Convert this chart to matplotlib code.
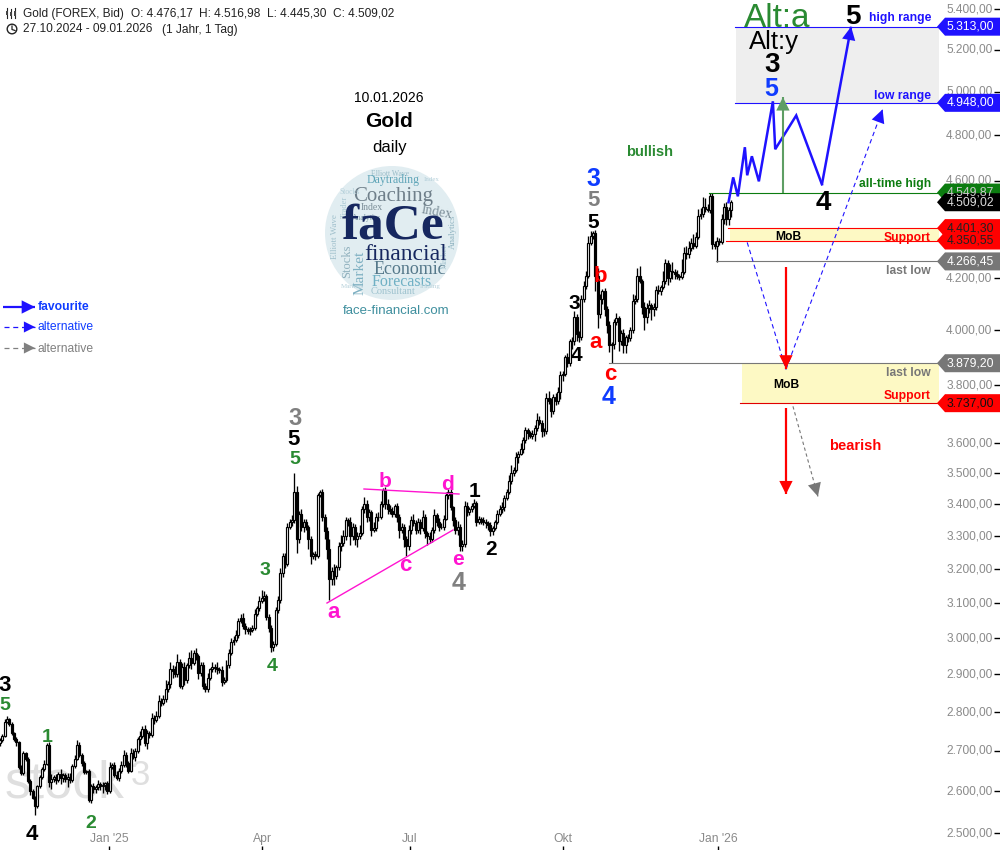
import numpy as np
import matplotlib
matplotlib.use('Agg')
import matplotlib.pyplot as plt
from matplotlib.patches import Polygon, Circle
from matplotlib.transforms import Affine2D, IdentityTransform

plt.rcParams['font.family'] = ['Liberation Sans', 'DejaVu Sans']

first_open = 2720
close = [
    2728, 2738, 2775, 2782, 2770, 2745, 2730, 2722, 2660, 2645,
    2695, 2680, 2625, 2600, 2585, 2565, 2612, 2635, 2655, 2668,
    2716, 2622, 2630, 2634, 2628, 2642, 2632, 2640, 2629, 2636,
    2628, 2662, 2680, 2715, 2690, 2670, 2648, 2650, 2578, 2612,
    2605, 2610, 2618, 2612, 2615, 2620, 2600, 2660, 2665, 2640,
    2633, 2650, 2665, 2690, 2670, 2650, 2695, 2685, 2700, 2730,
    2738, 2755, 2720, 2745, 2740, 2785, 2780, 2790, 2830, 2825,
    2835, 2860, 2875, 2915, 2910, 2900, 2935, 2870, 2920, 2885,
    2925, 2945, 2930, 2960, 2950, 2905, 2925, 2870, 2860, 2890,
    2915, 2920, 2918, 2915, 2912, 2880, 2885, 2925, 2960, 2990,
    2995, 3010, 3050, 3058, 3035, 3025, 3020, 3022, 3030, 3070,
    3085, 3105, 3115, 3120, 3060, 3030, 2975, 2985, 3080, 3110,
    3190, 3240, 3215, 3330, 3345, 3350, 3440, 3290, 3370, 3330,
    3345, 3330, 3290, 3240, 3245, 3240, 3430, 3440, 3360, 3315,
    3260, 3170, 3195, 3180, 3205, 3270, 3280, 3300, 3350, 3345,
    3300, 3330, 3290, 3300, 3310, 3385, 3400, 3360, 3375, 3320,
    3325, 3360, 3360, 3400, 3445, 3400, 3385, 3380, 3370, 3395,
    3360, 3320, 3330, 3290, 3270, 3320, 3350, 3340, 3320, 3345,
    3325, 3360, 3310, 3300, 3290, 3320, 3365, 3345, 3330, 3330,
    3355, 3430, 3440, 3390, 3350, 3320, 3330, 3270, 3275, 3395,
    3375, 3385, 3395, 3405, 3345, 3355, 3350, 3345, 3340, 3335,
    3315, 3325, 3345, 3370, 3385, 3390, 3420, 3440, 3475, 3500,
    3510, 3555, 3565, 3580, 3610, 3645, 3635, 3625, 3630, 3650,
    3680, 3670, 3640, 3640, 3755, 3745, 3710, 3760, 3745, 3775,
    3835, 3840, 3900, 3880, 3960, 3960, 4050, 3985, 3975, 4120,
    4170, 4210, 4340, 4370, 4380, 4210, 4060, 4120, 4150, 4080,
    4020, 3945, 3950, 4030, 4045, 3960, 3990, 3945, 3975, 3970,
    4000, 4110, 4120, 4210, 4190, 4090, 4050, 4085, 4095, 4080,
    4090, 4155, 4150, 4165, 4190, 4260, 4200, 4230, 4225, 4215,
    4210, 4205, 4225, 4300, 4295, 4320, 4340, 4330, 4365, 4450,
    4460, 4490, 4480, 4475, 4535, 4335, 4330, 4350, 4345, 4440,
    4490, 4440, 4476.17, 4509.02,
]
wick_up = [
    6, 4, 6, 8, 3, 5, 4, 6, 3, 4,
    5, 3, 6, 4, 5, 3, 4, 5, 6, 10,
    4, 6, 12, 5, 8, 6, 14, 6, 5, 10,
    8, 5, 10, 14, 8, 4, 5, 3, 4, 6,
    8, 6, 10, 6, 8, 4, 6, 12, 5, 8,
    10, 8, 10, 12, 8, 6, 12, 10, 8, 6,
    14, 8, 10, 8, 6, 12, 6, 12, 14, 8,
    10, 26, 8, 18, 10, 12, 20, 8, 10, 14,
    6, 16, 22, 8, 12, 6, 8, 8, 6, 14,
    4, 14, 8, 16, 6, 10, 8, 14, 10, 12,
    10, 12, 6, 10, 14, 8, 8, 10, 6, 12,
    8, 16, 22, 14, 6, 10, 8, 6, 10, 12,
    14, 10, 8, 12, 10, 16, 60, 20, 8, 14,
    10, 8, 6, 12, 8, 10, 6, 6, 10, 8,
    14, 30, 12, 20, 8, 12, 24, 18, 10, 8,
    14, 10, 8, 12, 26, 10, 22, 14, 10, 8,
    18, 12, 16, 10, 8, 10, 18, 12, 10, 6,
    10, 8, 12, 8, 10, 16, 14, 20, 10, 12,
    8, 22, 10, 6, 14, 10, 20, 8, 12, 10,
    12, 10, 8, 8, 6, 10, 16, 8, 12, 14,
    12, 8, 10, 12, 6, 8, 6, 10, 8, 6,
    10, 8, 6, 12, 14, 16, 10, 8, 18, 26,
    12, 14, 8, 20, 12, 10, 8, 6, 14, 12,
    22, 14, 8, 10, 18, 24, 10, 8, 12, 20,
    16, 12, 10, 16, 8, 14, 22, 10, 12, 14,
    18, 20, 28, 18, 8, 14, 30, 20, 6, 10,
    12, 14, 8, 12, 20, 10, 10, 14, 8, 12,
    14, 28, 16, 30, 40, 8, 16, 18, 20, 10,
    14, 14, 20, 10, 40, 18, 14, 26, 34, 12,
    16, 8, 50, 24, 30, 28, 20, 36, 20, 30,
    24, 40, 35, 20, 15, 14, 12, 16, 12, 20,
    16, 20, 14, 8,
]
wick_dn = [
    8, 5, 3, 4, 6, 5, 4, 10, 4, 6,
    4, 6, 5, 8, 4, 22, 6, 4, 6, 5,
    3, 12, 16, 6, 10, 5, 14, 8, 6, 18,
    8, 5, 4, 3, 6, 8, 5, 6, 4, 6,
    8, 10, 6, 8, 16, 12, 6, 4, 5, 6,
    5, 8, 6, 4, 10, 6, 3, 6, 10, 5,
    14, 6, 8, 14, 6, 4, 12, 6, 5, 8,
    6, 8, 6, 12, 20, 8, 6, 6, 10, 12,
    8, 6, 14, 5, 10, 18, 10, 10, 8, 6,
    6, 8, 12, 14, 8, 10, 6, 4, 8, 6,
    8, 6, 10, 6, 8, 14, 8, 10, 4, 6,
    6, 8, 6, 10, 8, 12, 14, 10, 6, 8,
    10, 14, 12, 6, 8, 14, 10, 40, 12, 14,
    16, 10, 30, 24, 10, 12, 6, 8, 14, 22,
    28, 60, 18, 26, 10, 8, 14, 10, 12, 14,
    26, 12, 18, 22, 10, 6, 12, 16, 14, 20,
    8, 10, 12, 6, 10, 14, 16, 12, 10, 10,
    16, 24, 10, 22, 30, 12, 14, 8, 14, 10,
    18, 10, 16, 26, 12, 8, 10, 12, 14, 8,
    10, 6, 12, 8, 18, 14, 16, 14, 14, 8,
    12, 8, 10, 6, 14, 8, 12, 10, 14, 16,
    14, 10, 6, 8, 6, 14, 10, 6, 8, 10,
    8, 6, 22, 6, 14, 10, 20, 8, 12, 22,
    8, 10, 20, 16, 10, 12, 22, 10, 14, 12,
    22, 18, 8, 14, 10, 30, 14, 24, 18, 10,
    12, 14, 10, 6, 14, 60, 50, 14, 20, 26,
    28, 24, 65, 20, 10, 36, 14, 30, 30, 14,
    10, 8, 10, 14, 10, 30, 50, 22, 18, 40,
    24, 12, 10, 14, 8, 12, 26, 16, 30, 20,
    14, 12, 10, 8, 20, 14, 10, 12, 8, 10,
    10, 14, 12, 8, 10, 20, 12, 64, 14, 10,
    20, 26, 25, 31,
]

# favourite path and the alternatives: bar number, price
path_bars = [312, 314, 316, 319, 320, 322, 325, 331, 332, 341, 352, 364.5]
path_prices = [4509, 4615, 4534, 4747, 4624, 4707, 4598, 4955, 4738, 4890, 4585, 5313]
alt_bars = [320, 336.6, 378]
alt_prices = [4343, 3857, 4918]
grey_bars = [339.6, 350.3]
grey_prices = [3726, 3425]

y_ticks = [5400, 5200, 5000, 4800, 4600, 4200, 4000, 3800, 3600, 3500, 3400,
           3300, 3200, 3100, 3000, 2900, 2800, 2700, 2600, 2500]
x_ticks = [46.7, 112.2, 175.6, 241.1, 307.5]
x_labels = ["Jan '25", 'Apr', 'Jul', 'Okt', "Jan '26"]

# price, line colour, first bar of the line
levels = [(5313, '#1f12ff', 314.8), (4948, '#1f12ff', 314.8), (4549.87, '#0c7c10', 303.6),
          (4401.30, '#ff0000', 311.8), (4350.55, '#ff0000', 311), (4266.45, '#777777', 306.6),
          (3879.20, '#777777', 260.8), (3737, '#e00000', 317)]
# drawn in this order, later tags lie on top
tags = [(5313, '5.313,00', '#1f12ff', 'white'), (4948, '4.948,00', '#1f12ff', 'white'),
        (4549.87, '4.549,87', '#0c7c10', '#cccccc'), (4509.02, '4.509,02', 'black', '#dddddd'),
        (4350.55, '4.350,55', '#ff0000', '#222222'), (4401.30, '4.401,30', '#ff0000', '#222222'),
        (4266.45, '4.266,45', '#777777', 'white'), (3879.20, '3.879,20', '#777777', 'white'),
        (3737, '3.737,00', '#ff0000', '#111111')]

BLACK, GREEN, BLUE, GREY, RED, PINK = 'black', '#2a8a32', '#0f3cff', '#808080', '#ff0000', '#ff14d0'
wave_labels = [
    (5, 684, '3', BLACK, 16), (5, 704, '5', GREEN, 14), (47, 736, '1', GREEN, 14),
    (32, 833, '4', BLACK, 16), (91, 822, '2', GREEN, 14), (265, 569, '3', GREEN, 14),
    (272, 665, '4', GREEN, 14), (295, 417, '3', GREY, 17), (294, 438, '5', BLACK, 16),
    (295, 458, '5', GREEN, 14), (334, 611, 'a', PINK, 16), (385, 480, 'b', PINK, 15),
    (405, 564, 'c', PINK, 16), (448, 483, 'd', PINK, 15), (458, 558, 'e', PINK, 15),
    (459, 581, '4', GREY, 18), (474, 490, '1', BLACK, 15), (491, 548, '2', BLACK, 15),
    (574, 302, '3', BLACK, 15), (576, 354, '4', BLACK, 15), (593, 221, '5', BLACK, 15),
    (594, 199, '5', GREY, 16), (593, 178, '3', BLUE, 18), (600, 275, 'b', RED, 16),
    (596, 341, 'a', RED, 16), (610, 373, 'c', RED, 16), (609, 396, '4', BLUE, 18),
    (771, 87, '5', BLUE, 18), (772, 64, '3', BLACK, 20), (853, 15, '5', BLACK, 20),
    (823, 201, '4', BLACK, 20),
]

# colour, text, y for the labels at the right
range_labels = [('#1f12ff', 'high range', 17), ('#1f12ff', 'low range', 94),
                ('#0c7c10', 'all-time high', 183), ('#ff0000', 'Support', 237),
                ('#777777', 'last low', 270), ('#777777', 'last low', 372),
                ('#ff0000', 'Support', 394)]

fig = plt.figure(figsize=(10, 8.5), dpi=100)
ax = fig.add_axes([0, 0, 1, 1])
ax.set_yscale('log')
ax.set_xlim(0, 1000 / 2.335)
ax.set_ylim(2500 * np.exp(-16.7 / 1070), 5400 * np.exp(9.3 / 1070))
for s in ax.spines.values():
    s.set_visible(False)
ax.set_yticks(y_ticks)
ax.set_yticklabels([f'{t // 1000}.{t % 1000:03d},00' for t in y_ticks])
ax.minorticks_off()
ax.set_xticks(x_ticks)
ax.set_xticklabels(x_labels)
ax.tick_params(axis='y', left=False, labelleft=False, right=True, labelright=True, direction='in',
               length=4, width=1, pad=-5.5, labelsize=8.6, labelcolor='#8a8a8a', color='black')
for lab in ax.get_yticklabels():
    lab.set_ha('right')
    lab.set_va('center')
ax.tick_params(axis='x', direction='in', length=3, width=1, pad=-12, labelsize=8.7,
               labelcolor='#8a8a8a', color='black')

# pixel coordinates with y from the top, for the notes around the chart
PX = Affine2D().scale(1, -1).translate(0, 850)


def note(x, y, s, color='black', size=8.7, weight='normal', ha='center', **kw):
    return ax.text(x, y + 1.5, s, color=color, fontsize=size, fontweight=weight, ha=ha, va='center',
                   transform=PX, zorder=kw.pop('zorder', 7), **kw)


def arrow(x0, y0, x1, y1, color, lw=1.5, ls='-', coords='data', ms=24):
    trans = ax.transData if coords == 'data' else PX
    ax.plot([x0, x1], [y0, y1], color=color, lw=lw, ls=ls, transform=trans, zorder=6,
            solid_capstyle='butt')
    a = trans.transform((x0, y0))
    b = trans.transform((x1, y1))
    start = b + (a - b) / np.hypot(*(a - b)) * 14
    ax.annotate('', xy=b, xytext=start, xycoords='figure pixels', textcoords='figure pixels',
                arrowprops=dict(arrowstyle='-|>', color=color, lw=0, mutation_scale=ms,
                                shrinkA=0, shrinkB=0), zorder=6)


# watermark
ax.text(5, 797, 'stock', color='#dfdfdf', fontsize=37, transform=PX, ha='left', va='baseline', zorder=0.5)
ax.text(131, 785, '3', color='#dfdfdf', fontsize=25, transform=PX, ha='left', va='baseline', zorder=0.5)

# candles
close = np.array(close, dtype=float)
opens = np.r_[first_open, close[:-1]]
high = np.maximum(opens, close) + np.array(wick_up)
low = np.minimum(opens, close) - np.array(wick_dn)
bars = np.arange(len(close))
up = close >= opens
ax.vlines(bars, low, high, color='black', lw=0.95, zorder=2)
ax.bar(bars, np.abs(close - opens), bottom=np.minimum(opens, close), width=0.85,
       color=np.where(up, 'white', 'black'), edgecolor='black', linewidth=0.85, zorder=3)

# zones and levels
ax.fill_between([315, 402], 4948, 5313, color='#eeeeee', lw=0, zorder=1)
ax.fill_between([312.6, 402], 4350.55, 4401.30, color='#fdf9c4', lw=0, zorder=1)
ax.fill_between([317.8, 402], 3737, 3879.20, color='#fdf9c4', lw=0, zorder=1)
for price, col, start in levels:
    ax.plot([start, 401.7], [price, price], color=col, lw=0.8, zorder=4)

# forecast paths
ax.plot(path_bars[:-1], path_prices[:-1], color='#1f12ff', lw=1.8, zorder=5, solid_joinstyle='miter')
arrow(path_bars[-2], path_prices[-2], path_bars[-1], path_prices[-1], '#1f12ff', lw=1.8)
ax.plot(alt_bars[:2], alt_prices[:2], color='#1f12ff', lw=0.8, ls=(0, (4, 3)), zorder=5)
arrow(alt_bars[1], alt_prices[1], alt_bars[2], alt_prices[2], '#1f12ff', lw=0.8, ls=(0, (4, 3)))
arrow(grey_bars[0], grey_prices[0], grey_bars[1], grey_prices[1], '#777777', lw=0.8, ls=(0, (3, 2.5)))
arrow(336.6, 4243, 336.6, 3860, '#ff0000', lw=1.6)
arrow(336.6, 3720, 336.6, 3432, '#ff0000', lw=1.6)
arrow(335.3, 4549.87, 335.3, 4974, '#5e9e64', lw=1.5)

# triangle lines
ax.plot([327, 453], [603, 530], color=PINK, lw=1, transform=PX, zorder=5)
ax.plot([364, 459], [489, 494], color=PINK, lw=1, transform=PX, zorder=5)

# price tags at the right
for price, text, bg, fg in tags:
    yp = ax.transData.transform((0, price))[1]
    pts = [(937, yp), (945, yp + 9), (1000, yp + 9), (1000, yp - 9), (945, yp - 9)]
    ax.add_patch(Polygon(pts, closed=True, facecolor=bg, edgecolor='none',
                         transform=IdentityTransform(), zorder=8))
    ax.text(994, yp, text, color=fg, fontsize=8.7, ha='right', va='center',
            transform=IdentityTransform(), zorder=9)

for x, y, s, col, size in wave_labels:
    note(x, y, s, col, size, 'bold')
note(777, 17, 'Alt:a', '#2a8a32', 24)
note(774, 41, 'Alt:y', 'black', 18.5)
note(650, 150, 'bullish', '#2a8a32', 10.5, 'bold')
note(855, 445, 'bearish', '#ff0000', 10.5, 'bold')
for col, s, y in range_labels:
    note(931, y, s, col, 8.7, 'bold', ha='right')
note(788, 235, 'MoB', 'black', 8.7, 'bold')
note(786, 384, 'MoB', 'black', 8.7, 'bold')

# header
note(23, 12, 'Gold (FOREX, Bid)', '#222222', 8.6, ha='left')
note(131, 12, 'O: 4.476,17', '#222222', 8.6, ha='left')
note(199, 12, 'H: 4.516,98', '#222222', 8.6, ha='left')
note(267, 12, 'L: 4.445,30', '#222222', 8.6, ha='left')
note(333, 12, 'C: 4.509,02', '#222222', 8.6, ha='left')
note(23, 28, '27.10.2024 - 09.01.2026', '#222222', 8.6, ha='left')
note(162, 28, '(1 Jahr, 1 Tag)', '#222222', 8.6, ha='left')
for x, y0, y1, b0, b1 in [(7, 8, 18, 11, 15), (11, 9, 18, 12, 16), (15, 8, 18, 11, 16)]:
    ax.plot([x, x], [y0, y1], color='#222222', lw=0.8, transform=PX, zorder=7)
    ax.fill_between([x - 1.2, x + 1.2], b0, b1, color='#444444', lw=0, transform=PX, zorder=7)
ax.add_patch(Circle((12, 29), 4.8, fill=False, edgecolor='#222222', lw=1, transform=PX, zorder=7))
ax.plot([12, 12, 15], [26, 29.5, 30.5], color='#222222', lw=0.9, transform=PX, zorder=7)

# title block
note(389, 96, '10.01.2026', 'black', 10)
note(389, 120, 'Gold', 'black', 15, 'bold')
note(390, 146, 'daily', 'black', 12)

# logo
disc = Circle((392, 233), 67, facecolor='#e1edf1', edgecolor='none', transform=PX, zorder=1)
ax.add_patch(disc)
cloud = [
    (390, 172, 'Elliott Wave', '#9abcc8', 5.5, 0), (367, 217, 'Analytics', '#7d99a5', 5.5, 0),
    (335, 235, 'Elliott Wave', '#a0c0cc', 6.5, 90), (453, 230, 'Analytics', '#8fb3c0', 6.5, 90),
    (347, 260, 'Stocks', '#8fb0bd', 9, 90), (360, 271, 'Market', '#7eb0c2', 11, 90),
    (372, 206, 'Index', '#7d8f99', 7, 0), (437, 211, 'Index', '#7d8f99', 10, -10),
    (393, 179, 'Daytrading', '#5fa5b8', 8.5, 0), (393, 195, 'Coaching', '#6f7f8a', 15, 0),
    (410, 268, 'Economic', '#55788a', 13, 0), (402, 281, 'Forecasts', '#6fb0c4', 11.5, 0),
    (393, 290, 'Consultant', '#9fc3cf', 7.5, 0), (345, 205, 'Trader', '#a9c8d3', 6, 90),
    (432, 178, 'Index', '#b5d0da', 5, 0), (350, 190, 'Stocks', '#b5d0da', 5.5, 0),
    (445, 255, 'Market', '#a9c8d3', 6, 90), (430, 285, 'Trading', '#b5d0da', 5, 0),
    (352, 285, 'Markets', '#b5d0da', 5, 0),
]
for x, y, s, col, size, rot in cloud:
    t = note(x, y, s, col, size, family='Liberation Serif', rotation=rot, zorder=2)
    t.set_clip_path(disc)
note(392.5, 225, 'faCe', '#16275f', 37, 'bold', family='Liberation Serif', zorder=3)
note(406, 253, 'financial', '#16275f', 17, family='Liberation Serif', zorder=3)
note(396, 309, 'face-financial.com', '#3f8f9e', 9.5)

# legend
arrow(3, 307, 35, 307, '#1f12ff', lw=1.6, coords='px', ms=24)
arrow(4, 327, 35, 327, '#1f12ff', lw=0.9, ls=(0, (4, 3)), coords='px', ms=20)
arrow(4, 348, 35, 348, '#808080', lw=0.9, ls=(0, (4, 3)), coords='px', ms=20)
note(38, 306, 'favourite', '#0f3cff', 8.7, 'bold', ha='left')
note(38, 326, 'alternative', '#0f3cff', 8.7, ha='left')
note(38, 347, 'alternative', '#808080', 8.7, ha='left')

fig.savefig('out.png', dpi=100)
